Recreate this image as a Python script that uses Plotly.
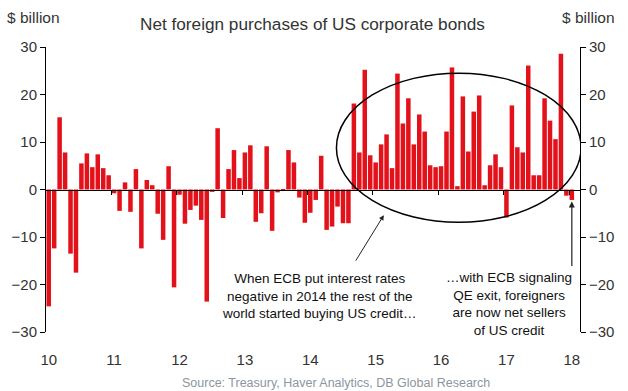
import plotly.graph_objects as go

# Monthly net foreign purchases of US corporate bonds, $ billion, Jan 2010 - Jan 2018
values = [
    -24.6, -12.4, 15.2, 7.8, -13.5, -17.5, 5.5, 7.6, 4.7, 7.4, 4.5, 3.0,      # 2010
    -0.8, -4.5, 1.5, -4.7, 4.3, -12.4, 2.0, 0.9, -5.1, -10.6, 4.9, -20.6,     # 2011
    -1.1, -7.2, -4.3, -3.4, -6.4, -23.6, -0.5, 12.9, -6.0, 4.3, 8.3, 2.4,     # 2012
    7.8, 9.3, -6.8, -5.0, 9.1, -8.7, -0.6, -0.3, 8.3, 5.7, -1.7, -7.0,        # 2013
    -4.9, -2.2, 7.1, -8.5, -7.8, -3.6, -7.1, -7.1, 18.1, 7.8, 25.2, 7.2,      # 2014
    5.7, 9.5, 11.6, 4.5, 24.4, 13.9, 19.2, 9.5, 15.8, 12.2, 5.1, 4.7,         # 2015
    4.9, 12.2, 25.7, 0.7, 19.6, 8.0, 16.4, 19.8, 0.9, 5.1, 7.4, 4.7,          # 2016
    -5.9, 17.7, 8.9, 7.8, 26.1, 3.0, 3.0, 19.2, 14.5, 10.6, 28.6, -1.3,       # 2017
    -2.2,                                                                       # 2018
]
months = list(range(len(values)))
year_labels = ["10", "11", "12", "13", "14", "15", "16", "17", "18"]
year_starts = [12 * i for i in range(len(year_labels))]
y_ticks = [-30, -20, -10, 0, 10, 20, 30]

FONT = "Liberation Sans, Arial, sans-serif"
TXT = "#333333"
RED = "#E3121A"
N_SLOTS = 98  # Jan 2010 .. Feb 2018

fig = go.Figure()
fig.add_trace(go.Bar(x=months, y=values, marker=dict(color=RED, line=dict(width=0)),
                     showlegend=False, hoverinfo="x+y"))
# invisible helper traces so the overlay axes are drawn
fig.add_trace(go.Scatter(x=[0], y=[0], xaxis="x2", yaxis="y", mode="markers",
                         marker=dict(opacity=0), showlegend=False, hoverinfo="skip"))
fig.add_trace(go.Scatter(x=[0], y=[0], xaxis="x", yaxis="y2", mode="markers",
                         marker=dict(opacity=0), showlegend=False, hoverinfo="skip"))

rng_x = [-0.5, N_SLOTS - 0.5]
fig.update_layout(
    width=628, height=391,
    margin=dict(l=46, r=48, t=47, b=59, pad=0),
    paper_bgcolor="white", plot_bgcolor="white",
    bargap=0.17,
    font=dict(family=FONT, color=TXT, size=15),
    xaxis=dict(range=rng_x, tickmode="array", tickvals=year_starts, ticktext=year_labels,
               showgrid=False, zeroline=False, showline=False,
               ticks="outside", ticklen=14, tickcolor="rgba(0,0,0,0)",
               tickfont=dict(size=15, color=TXT, family=FONT)),
    xaxis2=dict(range=rng_x, overlaying="x", anchor="free", position=0.5, side="bottom",
                tickmode="array", tickvals=[s - 0.5 for s in year_starts[1:]],
                showticklabels=False, ticks="outside", ticklen=4, tickwidth=1,
                tickcolor="black", showline=True, linecolor="black", linewidth=1.2,
                showgrid=False, zeroline=False),
    yaxis=dict(range=[-30, 30], tickmode="array", tickvals=y_ticks,
               showgrid=False, zeroline=False, showline=True, linecolor="black",
               linewidth=1, ticks="outside", ticklen=5, tickcolor="black",
               tickfont=dict(size=15, color=TXT, family=FONT)),
    yaxis2=dict(range=[-30, 30], overlaying="y", side="right", anchor="x",
                tickmode="array", tickvals=y_ticks,
                showgrid=False, zeroline=False, showline=True, linecolor="black",
                linewidth=1, ticks="outside", ticklen=5, tickcolor="black",
                tickfont=dict(size=15, color=TXT, family=FONT)),
)

# ellipse highlighting 2015-2017
fig.add_shape(type="circle", xref="x", yref="y", x0=52.8, x1=97.7, y0=-6.9, y1=24.5,
              line=dict(color="black", width=1.5), fillcolor="rgba(0,0,0,0)")

annotations = [
    dict(text="Net foreign purchases of US corporate bonds", xref="paper", yref="paper",
         x=0.499, y=1.08, xanchor="center", yanchor="middle", showarrow=False,
         font=dict(size=17.2, color=TXT, family=FONT)),
    dict(text="$ billion", xref="paper", yref="paper", x=-0.0768, y=1.102,
         xanchor="left", yanchor="middle", showarrow=False,
         font=dict(size=15.5, color=TXT, family=FONT)),
    dict(text="$ billion", xref="paper", yref="paper", x=1.069, y=1.102,
         xanchor="right", yanchor="middle", showarrow=False,
         font=dict(size=15.5, color=TXT, family=FONT)),
    dict(text="When ECB put interest rates<br>negative in 2014 the rest of the<br>world started buying US credit…",
         xref="x", yref="y", x=49.7, y=-22.5, xanchor="center", yanchor="middle",
         align="center", showarrow=False, font=dict(size=13.5, color="#111111", family=FONT)),
    dict(text="…with ECB signaling<br>QE exit, foreigners<br>are now net sellers<br>of US credit",
         xref="x", yref="y", x=84.4, y=-24.1, xanchor="center", yanchor="middle",
         align="center", showarrow=False, font=dict(size=13.5, color="#111111", family=FONT)),
    dict(text="Source: Treasury, Haver Analytics, DB Global Research", xref="paper", yref="paper",
         x=0.543, y=-0.179, xanchor="center", yanchor="middle", showarrow=False,
         font=dict(size=12.5, color="#8C96A0", family=FONT)),
    # arrows
    dict(text="", xref="x", yref="y", x=61.5, y=-5.4, ax=-29, ay=47,
         showarrow=True, arrowhead=2, arrowsize=1, arrowwidth=1, arrowcolor="#222222",
         standoff=0, startstandoff=0),
    dict(text="", xref="x", yref="y", x=96.0, y=-2.5, ax=0, ay=66,
         showarrow=True, arrowhead=2, arrowsize=1, arrowwidth=1.2, arrowcolor="#222222",
         standoff=0, startstandoff=0),
]
fig.update_layout(annotations=annotations)

fig.write_html("out.html", config=dict(displayModeBar=False),
               post_script="document.body.style.margin='0';document.body.style.overflow='hidden';")
